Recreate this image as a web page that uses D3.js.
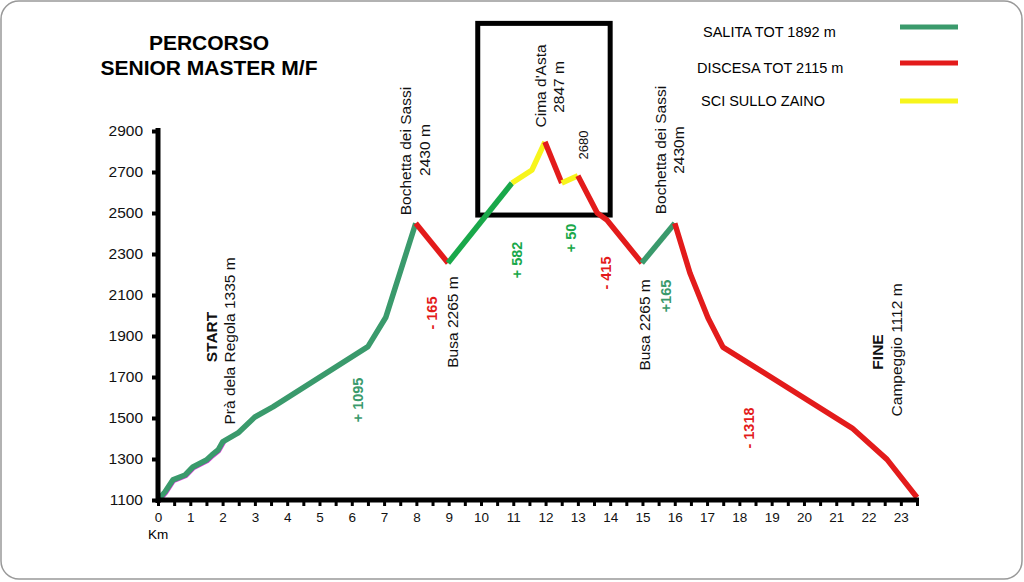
<!DOCTYPE html>
<html>
<head>
<meta charset="utf-8">
<script src="https://cdn.jsdelivr.net/npm/d3@7"></script>
<style>
  body { margin: 0; background: #fff; }
  svg { display: block; font-family: "Liberation Sans", Arial, sans-serif; }
</style>
</head>
<body>
<svg id="chart" width="1024" height="582"></svg>
<script>
// profilo altimetrico: km e quota di ogni punto
const km = [0, 0.22, 0.46, 0.84, 1.08, 1.5, 1.67, 1.86, 2.0, 2.48, 3.0, 3.56, 6.5, 7.05, 7.98,
            8.98, 10.96, 11.58, 11.98, 12.5, 13.0, 13.6, 13.9, 14.98, 16.0,
            16.47, 17.03, 17.49, 21.49, 22.57, 23.5];
const quota = [1100, 1140, 1198, 1222, 1261, 1295, 1320, 1344, 1383, 1427, 1505, 1554, 1848, 1990, 2450,
               2256, 2646, 2710, 2847, 2646, 2682, 2500, 2466, 2256, 2450,
               2207, 1988, 1846, 1451, 1298, 1112];
// tipo di ogni tratto (da punto i a punto i+1)
const tratti = [
  "salita", "salita", "salita", "salita", "salita", "salita", "salita",
  "salita", "salita", "salita", "salita", "salita", "salita", "salita",
  "discesa", "salita2", "zaino", "zaino", "discesa", "zaino",
  "discesa", "discesa", "discesa", "salita",
  "discesa", "discesa", "discesa", "discesa", "discesa", "discesa"
];

const yTicks = [1100, 1300, 1500, 1700, 1900, 2100, 2300, 2500, 2700, 2900];
const titolo = ["PERCORSO", "SENIOR MASTER M/F"];
const legenda = [
  {testo: "SALITA TOT 1892 m", tipo: "salita"},
  {testo: "DISCESA TOT 2115 m", tipo: "discesa"},
  {testo: "SCI SULLO ZAINO", tipo: "zaino"}
];

// etichette verticali (posizione in km / quota)
const etichette = [
  {testo: "START", km: 1.67, q: 1895, tipo: "bold"},
  {testo: "Prà dela Regola 1335 m", km: 2.23, q: 1876, tipo: "nome"},
  {testo: "+ 1095", km: 6.19, q: 1588, tipo: "sal"},
  {testo: "Bochetta dei Sassi", km: 7.68, q: 2802, tipo: "nome"},
  {testo: "2430 m", km: 8.24, q: 2807, tipo: "nome"},
  {testo: "- 165", km: 8.48, q: 2012, tipo: "dis"},
  {testo: "Busa 2265 m", km: 9.13, q: 1968, tipo: "nome"},
  {testo: "+ 582", km: 11.11, q: 2271, tipo: "sal2"},
  {testo: "Cima d'Asta", km: 11.86, q: 3120, tipo: "nome"},
  {testo: "2847 m", km: 12.41, q: 3115, tipo: "nome"},
  {testo: "2680", km: 13.16, q: 2832, tipo: "piccolo"},
  {testo: "+ 50", km: 12.79, q: 2378, tipo: "sal2"},
  {testo: "- 415", km: 13.87, q: 2207, tipo: "dis"},
  {testo: "Busa 2265 m", km: 15.08, q: 1954, tipo: "nome"},
  {testo: "+165", km: 15.73, q: 2095, tipo: "sal"},
  {testo: "Bochetta dei Sassi", km: 15.57, q: 2807, tipo: "nome"},
  {testo: "2430m", km: 16.13, q: 2807, tipo: "nome"},
  {testo: "- 1318", km: 18.3, q: 1451, tipo: "dis"},
  {testo: "FINE", km: 22.29, q: 1822, tipo: "bold"},
  {testo: "Campeggio 1112 m", km: 22.88, q: 1832, tipo: "nome"}
];

// riquadro evidenziato attorno alla cima
const riquadro = {km0: 9.9, km1: 14.0, q0: 2490, q1: 3425};

const colori = {salita: "#3a9a6c", salita2: "#19a84a", discesa: "#e31b1b", zaino: "#f7f51c"};
const stileEtichette = {
  nome: {size: 15.5, weight: "normal", fill: "#111"},
  bold: {size: 15.5, weight: "bold", fill: "#111"},
  piccolo: {size: 13, weight: "normal", fill: "#111"},
  sal: {size: 14.5, weight: "bold", fill: "#3a9a6c"},
  sal2: {size: 14.5, weight: "bold", fill: "#19a84a"},
  dis: {size: 14.5, weight: "bold", fill: "#e31b1b"}
};

const svg = d3.select("#chart");

// cornice arrotondata
svg.append("rect")
  .attr("x", 1).attr("y", 1).attr("width", 1021).attr("height", 578)
  .attr("rx", 18)
  .attr("fill", "#fff").attr("stroke", "#999").attr("stroke-width", 1.5);

const x = d3.scaleLinear().domain([0, 23.5]).range([158, 917]);
const y = d3.scaleLinear().domain([1100, 2900]).range([500, 131]);

// titolo
svg.append("g").selectAll("text")
  .data(titolo)
  .join("text")
    .attr("x", 209)
    .attr("y", (d, i) => 50 + i * 25)
    .attr("text-anchor", "middle")
    .style("font", "bold 21px 'Liberation Sans', Arial, sans-serif")
    .text(d => d);

// legenda
const leg = svg.append("g");
leg.selectAll("text")
  .data(legenda)
  .join("text")
    .attr("x", (d, i) => [703, 697, 701][i])
    .attr("y", (d, i) => [32, 68, 101][i])
    .attr("dy", "0.35em")
    .style("font-size", "14.5px")
    .text(d => d.testo);
leg.selectAll("line")
  .data(legenda)
  .join("line")
    .attr("x1", 900).attr("x2", 958)
    .attr("y1", (d, i) => [27, 63, 101][i])
    .attr("y2", (d, i) => [27, 63, 101][i])
    .attr("stroke", d => colori[d.tipo])
    .attr("stroke-width", 5);

// riquadro nero
svg.append("rect")
  .attr("x", x(riquadro.km0))
  .attr("y", y(riquadro.q1))
  .attr("width", x(riquadro.km1) - x(riquadro.km0))
  .attr("height", y(riquadro.q0) - y(riquadro.q1))
  .attr("fill", "none")
  .attr("stroke", "#000")
  .attr("stroke-width", 5);

// profilo: una linea per ogni gruppo di tratti dello stesso tipo
const punti = km.map((k, i) => ({km: k, q: quota[i]}));
const gruppi = [];
tratti.forEach((t, i) => {
  const last = gruppi[gruppi.length - 1];
  if (last && last.tipo === t) {
    last.punti.push(punti[i + 1]);
  } else {
    gruppi.push({tipo: t, punti: [punti[i], punti[i + 1]]});
  }
});

const line = d3.line().x(d => x(d.km)).y(d => y(d.q));

// traccia magenta sotto la partenza
svg.append("path")
  .attr("d", line(punti.slice(0, 9)))
  .attr("transform", "translate(0.6,0.8)")
  .attr("fill", "none")
  .attr("stroke", "#d63bd6")
  .attr("stroke-width", 5)
  .attr("stroke-linejoin", "round")
  .attr("stroke-linecap", "round");

svg.append("g").selectAll("path")
  .data(gruppi)
  .join("path")
    .attr("d", d => line(d.punti))
    .attr("fill", "none")
    .attr("stroke", d => colori[d.tipo])
    .attr("stroke-width", 5.5)
    .attr("stroke-linejoin", "round")
    .attr("stroke-linecap", "butt");

// assi
const yAxis = svg.append("g")
  .attr("transform", `translate(${x(0)},0)`)
  .call(d3.axisLeft(y).tickValues(yTicks).tickFormat(d3.format("d"))
    .tickSize(6).tickSizeOuter(0).tickPadding(9));
yAxis.select(".domain").attr("stroke-width", 5).attr("d", `M0,${y(2900) - 3}V${y(1100) + 3}`);
yAxis.selectAll(".tick line").attr("stroke-width", 4);
yAxis.selectAll("text").style("font-size", "15.5px").attr("fill", "#111");

const xAxis = svg.append("g")
  .attr("transform", `translate(0,${y(1100)})`)
  .call(d3.axisBottom(x)
    .tickValues(d3.range(0, 23.51, 0.5))
    .tickFormat(d => Number.isInteger(d) ? d : "")
    .tickSize(6).tickSizeOuter(0).tickPadding(6));
xAxis.select(".domain").attr("stroke-width", 5).attr("d", `M${x(0) - 2},0H${x(23.5) + 2}`);
xAxis.selectAll(".tick line").attr("stroke-width", 3);
xAxis.selectAll("text").style("font-size", "13.5px").attr("fill", "#111");

svg.append("text")
  .attr("x", x(0))
  .attr("y", 539)
  .attr("text-anchor", "middle")
  .style("font-size", "13.5px")
  .text("Km");

// etichette ruotate
svg.append("g").selectAll("text")
  .data(etichette)
  .join("text")
    .attr("transform", d => `translate(${x(d.km)},${y(d.q)}) rotate(-90)`)
    .attr("text-anchor", "middle")
    .attr("dy", "0.35em")
    .style("font-size", d => stileEtichette[d.tipo].size + "px")
    .style("font-weight", d => stileEtichette[d.tipo].weight)
    .attr("fill", d => stileEtichette[d.tipo].fill)
    .text(d => d.testo);
</script>
</body>
</html>
